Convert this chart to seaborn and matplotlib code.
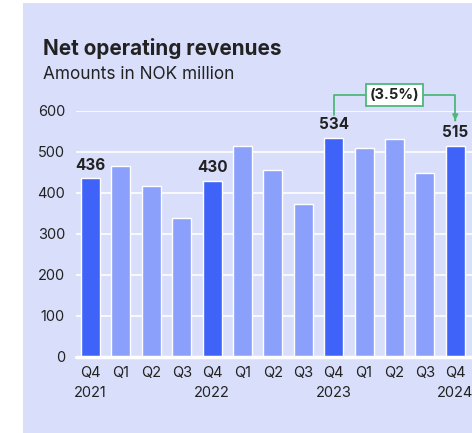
import matplotlib
matplotlib.use("Agg")
import matplotlib.pyplot as plt
import seaborn as sns
import pandas as pd
from matplotlib.patches import Rectangle

quarters = ["Q4", "Q1", "Q2", "Q3", "Q4", "Q1", "Q2", "Q3", "Q4", "Q1", "Q2", "Q3", "Q4"]
years = ["2021", "", "", "", "2022", "", "", "", "2023", "", "", "", "2024"]
values = [436, 466, 417, 339, 430, 515, 455, 373, 534, 510, 532, 449, 515]
highlight = [True, False, False, False, True, False, False, False, True, False, False, False, True]
labels_shown = ["436", "", "", "", "430", "", "", "", "534", "", "", "", "515"]
change_label = "(3.5%)"

DARK = "#3F63F8"
LIGHT = "#8AA0FB"
BG = "#D9DFFB"
GREEN = "#4DB87A"
TEXT = "#222222"

sns.set_theme(style="white")
plt.rcParams["font.family"] = ["Inter", "DejaVu Sans"]

W, H = 472, 433
fig = plt.figure(figsize=(W / 100, H / 100), dpi=100)
fig.patch.set_facecolor("white")
bgrect = Rectangle((23 / W, 0), 1 - 23 / W, 1 - 3 / H, transform=fig.transFigure,
                   facecolor=BG, edgecolor="none", zorder=-10)
fig.add_artist(bgrect)

ax = fig.add_axes([76 / W, (H - 356.7) / H, 1 - 76 / W, (356.7 - 111) / H])
ax.set_zorder(5)
ax.set_facecolor("none")

xlabels = [f"{q}\n{y}" for q, y in zip(quarters, years)]
df = pd.DataFrame({"x": [f"{i}" for i in range(len(values))], "v": values,
                   "h": ["d" if h else "l" for h in highlight]})
sns.barplot(data=df, x="x", y="v", hue="h", palette={"d": DARK, "l": LIGHT},
            width=0.625, legend=False, ax=ax, saturation=1, zorder=3, dodge=False)

ax.set_xlim(-0.477, 12.55)
ax.set_ylim(0, 600)
ax.set_yticks([0, 100, 200, 300, 400, 500, 600])
ax.set_yticklabels(["0", "100", "200", "300", "400", "500", "600"])
ax.set_xticks(range(len(values)))
ax.set_xticklabels(xlabels, linespacing=1.55)
ax.tick_params(axis="y", length=0, pad=8, labelsize=10.5, labelcolor=TEXT)
ax.tick_params(axis="x", length=0, pad=7, labelsize=10.5, labelcolor=TEXT)
ax.set_xlabel("")
ax.set_ylabel("")
for s in ax.spines.values():
    s.set_visible(False)
for yv in [100, 200, 300, 400, 500, 600]:
    ax.axhline(yv, color="white", lw=1.2, zorder=1)
ax.axhline(0, color="white", lw=2.5, zorder=4, clip_on=False)

for i, (v, lab) in enumerate(zip(values, labels_shown)):
    if lab:
        ax.annotate(lab, (i, v), xytext=(0, 4), textcoords="offset points",
                    ha="center", va="bottom", fontsize=11, fontweight="bold", color=TEXT)

# change bracket
i0, i1 = 8, 12
ybr = 640
ax.plot([i0, i0, i1, i1], [591, ybr, ybr, 580], color=GREEN, lw=1.3, clip_on=False, zorder=5)
ax.annotate("", xy=(i1, 570), xytext=(i1, 584),
            arrowprops=dict(arrowstyle="-|>", color=GREEN, lw=1.3, mutation_scale=8),
            annotation_clip=False)
ax.text((i0 + i1) / 2, ybr, change_label, ha="center", va="center", fontsize=10.5,
        fontweight="bold", color=TEXT, zorder=6, clip_on=False,
        bbox=dict(boxstyle="square,pad=0.28", facecolor="white", edgecolor=GREEN, lw=1.3))

fig.text(43 / W, 1 - 55 / H, "Net operating revenues", fontsize=14.9, fontweight="bold",
         color=TEXT, ha="left", va="baseline")
fig.text(43 / W, 1 - 79 / H, "Amounts in NOK million", fontsize=12.4,
         color=TEXT, ha="left", va="baseline")

fig.savefig("out.png", dpi=100, facecolor="white")
